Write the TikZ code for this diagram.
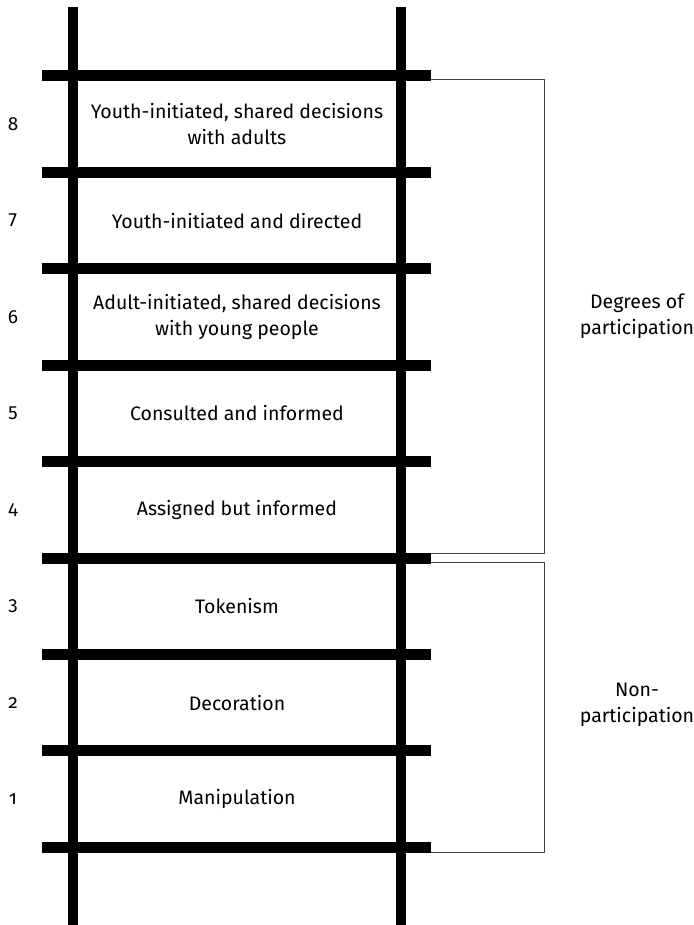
\documentclass[tikz,border=0pt]{standalone}
\usepackage{fontspec}
\setmainfont[Numbers=OldStyle]{Fira Sans}
\begin{document}
\begin{tikzpicture}[x=1pt,y=-1pt,
  rail/.style={line width=10pt},
  rung/.style={line width=11pt},
  brace/.style={line width=1pt, draw=black!75},
  lbl/.style={font=\fontsize{19.5}{26}\selectfont, align=center, inner sep=0pt},
  num/.style={font=\fontsize{19}{22}\selectfont, inner sep=0pt}]
\useasboundingbox (0,0) rectangle (693,925);
% rails
\coordinate (lt) at (73,7); \coordinate (lb) at (73,925);
\coordinate (rt) at (401,7); \coordinate (rb) at (401,925);
\draw[rail] (lt) -- (lb);
\draw[rail] (rt) -- (rb);
% rungs
\foreach \k in {0,...,8} {
  \pgfmathsetmacro{\yy}{76+96.4*\k}
  \coordinate (ra\k) at (42,\yy);
  \coordinate (rz\k) at (431,\yy);
  \draw[rung] (ra\k) -- (rz\k);
}
% labels
\foreach \n/\t [count=\i from 0] in {8/{Youth-initiated, shared decisions\\with adults},
  7/{Youth-initiated and directed},
  6/{Adult-initiated, shared decisions\\with young people},
  5/{Consulted and informed},
  4/{Assigned but informed},
  3/{Tokenism},
  2/{Decoration},
  1/{Manipulation}} {
  \pgfmathsetmacro{\yy}{124.2+96.4*\i}
  \node[lbl] (t\n) at (237,\yy) {\t};
  \node[num] (n\n) at (13,\yy) {\addfontfeature{Numbers=OldStyle}\n};
}
% brackets
\coordinate (b1) at (431,80); \coordinate (b2) at (544,80);
\coordinate (b3) at (544,553); \coordinate (b4) at (431,553);
\draw[brace] (b1) -- (b2) -- (b3) -- (b4);
\coordinate (c1) at (431,562); \coordinate (c2) at (544,562);
\coordinate (c3) at (544,852); \coordinate (c4) at (431,852);
\draw[brace] (c1) -- (c2) -- (c3) -- (c4);
\node[lbl] (deg) at (637,316) {Degrees of\\participation};
\node[lbl] (non) at (637,705) {Non-\\participation};
\end{tikzpicture}
\end{document}
